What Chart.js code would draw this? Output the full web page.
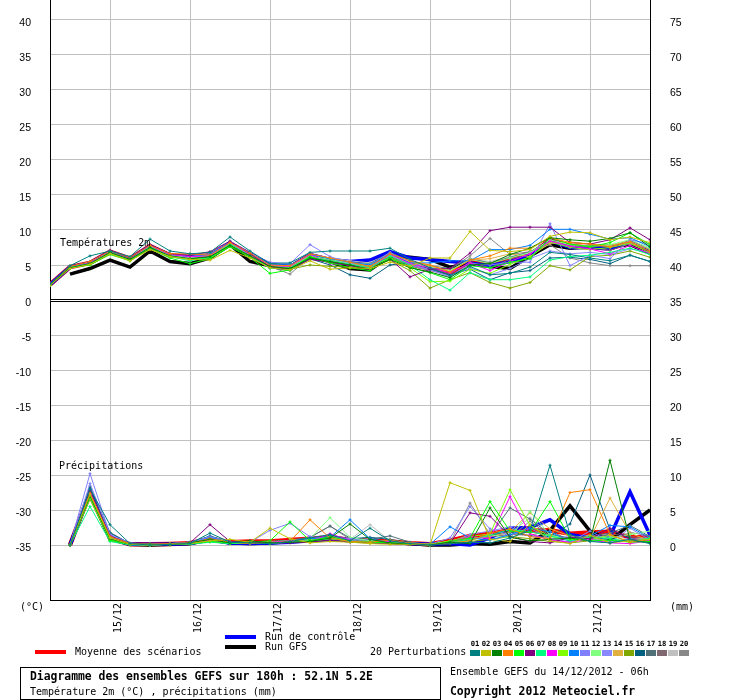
<!DOCTYPE html>
<html>
<head>
<meta charset="utf-8">
<script src="https://cdn.jsdelivr.net/npm/chart.js@4.4.0/dist/chart.umd.min.js"></script>
<style>
  body { margin: 0; background: #fff; }
  #wrap { position: relative; width: 740px; height: 700px; overflow: hidden; }
  #chart { position: absolute; left: 0; top: 0; }
  .t { position: absolute; font-family: "DejaVu Sans Mono", monospace; font-size: 10px; line-height: 12px; white-space: nowrap; color: #000; }
  .b { font-weight: bold; font-size: 11.4px; line-height: 13px; }
  .bar { position: absolute; height: 4px; width: 31px; }
  .sw { position: absolute; width: 10px; height: 6px; top: 650px; }
  .num { position: absolute; top: 639px; width: 11px; text-align: center; font-family: "DejaVu Sans Mono", monospace; font-size: 7.2px; font-weight: bold; line-height: 9px; }
  #box { position: absolute; left: 20px; top: 667px; width: 419px; height: 31px; border: 1px solid #000; }
</style>
</head>
<body>
<div id="wrap">
  <canvas id="chart" width="740" height="700"></canvas>
  <div class="t" style="left:60px; top:237px;">Températures 2m</div>
  <div class="t" style="left:59px; top:460px;">Précipitations</div>
  <div class="t" style="left:20px; top:601px;">(°C)</div>
  <div class="t" style="left:670px; top:601px;">(mm)</div>
  <div class="bar" style="left:35px; top:650px; background:#ff0000;"></div>
  <div class="t" style="left:75px; top:646px;">Moyenne des scénarios</div>
  <div class="bar" style="left:225px; top:635px; background:#0000ff;"></div>
  <div class="t" style="left:265px; top:631px;">Run de contrôle</div>
  <div class="bar" style="left:225px; top:645px; background:#000;"></div>
  <div class="t" style="left:265px; top:641px;">Run GFS</div>
  <div class="t" style="left:370px; top:646px;">20 Perturbations</div>
  <div id="swatches"></div>
  <div id="box"></div>
  <div class="t b" style="left:30px; top:670px;">Diagramme des ensembles GEFS sur 180h : 52.1N 5.2E</div>
  <div class="t" style="left:30px; top:686px;">Température 2m (°C) , précipitations (mm)</div>
  <div class="t" style="left:450px; top:666px;">Ensemble GEFS du 14/12/2012 - 06h</div>
  <div class="t b" style="left:450px; top:685px;">Copyright 2012 Meteociel.fr</div>
</div>
<script>
// échéances (heures depuis le 14/12 06h)
const hours = [0,6,12,18,24,30,36,42,48,54,60,66,72,78,84,90,96,102,108,114,120,126,132,138,144,150,156,162,168,174,180];
const dayTicks = [18,42,66,90,114,138,162];
const dayLabels = ['15/12','16/12','17/12','18/12','19/12','20/12','21/12'];
const tempTicks = [-35,-30,-25,-20,-15,-10,-5,0,5,10,15,20,25,30,35,40];
const precipTicks = [0,5,10,15,20,25,30,35,40,45,50,55,60,65,70,75];

const memberNames = ['01','02','03','04','05','06','07','08','09','10','11','12','13','14','15','16','17','18','19','20'];
const memberColors = ['#008080','#c0c000','#008000','#ff8000','#00ff00','#800080','#00ff80','#ff00ff','#80ff00','#0080ff',
                      '#8080ff','#80ff80','#8888ff','#e0b040','#80a800','#006080','#507078','#806870','#c0c0c0','#888888'];

// températures 2m (°C)
const tempMean = [2.2,4.7,5.3,6.9,5.9,7.7,6.4,6.1,6.4,8.1,6.5,4.9,4.7,6.4,5.7,5.2,4.9,6.4,5.1,4.5,3.8,5.5,5.0,5.7,6.4,8.6,7.7,7.5,7.4,8.2,6.9];
const tempControl = [2.2,4.7,5.3,6.9,5.9,7.7,6.4,6.1,6.4,8.1,6.6,5.0,4.8,6.5,5.8,5.5,5.7,6.9,6.0,5.8,5.5,5.3,4.9,5.5,6.4,8.5,7.5,7.5,7.3,8.3,7.0];
const tempGFS = [null,3.7,4.5,5.7,4.7,7.0,5.5,5.2,6.0,7.9,5.5,4.9,4.7,6.2,5.5,4.5,4.3,6.3,6.1,5.8,4.7,5.2,4.8,4.5,6.3,7.9,7.4,7.6,7.7,7.9,6.7];
const t01 = [2.3,4.9,6.3,7.0,6.2,8.7,7.0,6.6,6.8,9.0,7.0,5.2,5.3,6.8,7.0,7.0,7.0,7.4,5.8,4.6,3.5,4.8,3.6,3.8,4.7,6.8,6.5,6.0,5.6,6.4,5.5];
const t02 = [2.1,4.5,5.1,6.6,5.6,7.2,6.2,5.8,5.7,7.1,6.0,4.6,4.3,5.6,4.4,4.6,4.5,5.4,4.8,6.0,6.0,9.8,7.1,6.9,7.2,9.1,9.7,9.6,8.6,9.0,8.2];
const t03 = [2.2,4.6,5.2,6.8,5.8,7.5,6.3,5.9,6.2,7.8,6.3,4.8,4.5,6.0,5.5,5.0,4.4,5.8,4.6,4.0,3.2,5.0,5.2,6.5,7.4,8.9,8.6,8.4,8.8,9.6,7.6];
const t04 = [2.2,4.8,5.5,7.0,6.1,7.8,6.6,6.6,6.4,8.2,6.7,5.0,4.9,6.6,6.0,5.4,4.8,6.6,5.6,5.0,4.0,5.7,6.3,7.4,7.4,8.9,8.2,8.0,7.6,8.3,6.9];
const t05 = [2.1,4.6,5.0,6.5,5.6,7.3,6.0,5.2,5.9,7.6,6.1,3.8,4.3,6.2,5.3,4.6,4.2,6.0,4.7,3.9,2.9,4.9,4.6,5.4,5.9,8.9,8.0,7.6,8.2,9.6,7.9];
const t06 = [2.3,4.8,5.5,7.1,6.0,7.9,6.6,6.4,6.9,8.4,6.6,4.7,4.4,5.8,5.4,4.9,4.3,5.9,3.3,4.4,4.5,6.7,9.9,10.4,10.4,10.4,8.2,8.0,8.6,10.3,8.6];
const t07 = [2.2,4.7,5.2,6.8,5.8,7.6,6.2,5.6,6.1,8.0,6.3,4.5,4.6,6.1,5.6,5.1,4.6,6.3,5.0,2.9,1.4,3.9,2.9,2.9,3.3,5.7,6.2,6.4,6.8,7.4,6.5];
const t08 = [2.2,4.7,5.3,6.9,5.9,7.7,6.5,6.2,6.3,8.2,6.5,4.9,4.8,6.5,5.2,5.0,4.6,6.5,5.2,4.6,3.9,5.3,4.2,5.5,6.6,8.4,7.7,7.3,6.6,7.8,6.6];
const t09 = [2.1,4.6,5.2,6.7,5.7,7.5,6.2,5.8,6.0,7.7,6.4,4.7,4.6,6.2,5.4,5.0,4.8,6.0,4.6,2.6,2.7,4.4,3.8,5.1,6.2,8.3,7.5,7.2,7.5,8.1,6.7];
const t10 = [2.3,4.8,5.4,7.0,6.0,7.8,6.5,6.2,6.5,8.3,6.6,5.1,5.0,6.5,5.9,5.4,5.0,6.6,5.3,5.3,5.6,5.6,7.2,7.2,7.8,10.1,10.1,9.4,8.7,8.9,7.6];
const t11 = [2.2,4.6,5.3,6.9,6.0,7.8,6.5,6.2,6.6,8.4,6.7,5.4,5.2,7.9,6.2,5.3,5.0,6.8,5.2,4.3,3.4,5.2,5.0,5.4,5.4,10.9,4.9,6.4,5.9,8.6,8.0];
const t12 = [2.2,4.7,5.4,6.9,6.0,7.7,6.4,6.1,6.3,8.0,6.4,4.9,4.8,6.3,5.8,5.3,5.1,6.4,5.2,4.7,4.2,5.8,5.2,6.0,6.8,8.6,7.9,7.7,7.9,8.6,7.4];
const t13 = [2.3,4.8,5.3,6.8,5.9,7.6,6.4,6.0,6.4,8.0,6.5,5.0,4.8,6.6,5.9,5.1,4.8,6.4,5.0,4.3,3.3,4.6,3.6,4.5,5.9,7.0,6.6,6.8,6.5,7.3,6.8];
const t14 = [2.2,4.7,5.2,6.9,5.9,7.6,6.4,6.1,6.4,8.0,6.4,4.8,4.6,6.1,5.6,5.2,4.9,6.3,5.4,4.9,4.2,5.7,5.9,6.6,6.2,8.1,8.3,8.0,7.8,8.4,7.2];
const t15 = [2.2,4.6,5.1,6.8,5.8,7.5,6.3,5.9,6.2,7.8,6.3,4.6,4.4,5.0,4.8,4.7,4.6,5.7,4.2,1.7,2.9,3.9,2.5,1.7,2.5,4.9,4.3,6.2,6.4,7.0,6.1];
const t16 = [2.2,4.7,5.3,6.8,5.9,7.6,6.3,6.0,6.4,8.0,6.4,4.6,4.2,5.9,5.0,3.6,3.1,5.0,5.4,4.4,3.6,4.4,2.9,3.9,4.2,6.0,6.1,5.8,5.2,6.4,5.5];
const t17 = [2.2,4.6,5.2,6.8,5.8,7.6,6.4,6.1,6.3,8.0,6.5,4.9,4.6,6.5,5.8,5.4,5.2,6.8,5.6,4.9,4.5,5.9,5.3,6.1,6.9,8.5,7.7,7.7,7.6,8.4,7.2];
const t18 = [2.2,4.7,5.3,6.9,5.9,7.7,6.5,6.1,6.5,8.1,6.5,4.9,4.7,6.4,5.7,5.3,5.1,6.4,5.1,4.6,3.7,5.4,4.6,5.8,6.6,8.6,7.8,7.5,7.1,8.0,7.0];
const t19 = [2.2,4.7,5.3,6.9,5.9,7.7,6.4,6.1,6.4,8.1,6.6,5.0,4.9,6.5,6.0,5.6,5.3,6.6,5.4,4.7,4.1,5.8,5.5,6.2,6.7,8.3,7.7,7.6,7.8,8.1,7.3];
const t20 = [2.2,4.7,5.3,6.9,5.9,7.8,6.5,6.2,6.5,8.3,6.6,4.8,3.7,6.2,5.6,5.3,4.6,6.1,4.9,4.2,4.4,6.3,8.8,6.5,6.9,7.9,6.0,5.3,4.9,4.9,4.9];

// précipitations (mm / 6h)
const precipMean = [null,0,7.5,0.95,0.1,0.1,0.15,0.25,0.9,0.4,0.5,0.5,0.7,0.9,1.1,0.7,0.6,0.5,0.25,0.1,0.6,1.3,1.6,2.1,2.05,2.1,1.6,1.8,1.9,1.1,1.1];
const precipControl = [null,0,7.4,0.9,0.1,0.1,0.1,0.2,0.7,0.3,0.2,0.3,0.4,0.6,0.8,0.7,0.5,0.4,0.2,0.1,0.2,0,1.0,2.4,2.5,3.6,1.5,1.0,1.2,7.6,1.4];
const precipGFS = [null,0,7.5,0.9,0.1,0,0.1,0.2,0.8,0.3,0.2,0.3,0.5,0.6,0.9,0.6,0.5,0.4,0.2,0,0,0.2,0.1,0.5,0.3,2.1,5.6,2.0,0.7,2.9,5.0];
const p01 = [null,0,8.0,2.9,0.2,0,0.1,0.2,1.7,0.4,0.3,0.2,0.5,1.0,1.5,0.6,2.4,0.6,0.2,0,0.2,0.4,0.3,1.0,2.1,11.4,1.5,0.5,0.3,0.8,0.2];
const p02 = [null,0,7.2,1.0,0.1,0,0.1,0.2,0.6,0.8,0.4,2.4,0.9,0.3,0.5,0.4,0.2,0.1,0.1,0,8.9,7.8,0.8,0.5,2.9,0.6,0.2,1.4,0.3,0.6,0.8];
const p03 = [null,0,7.0,0.9,0.1,0.1,0,0.3,0.8,0.3,0.6,0.3,0.4,0.5,1.0,3.0,0.8,0.3,0.1,0,0.4,0.2,5.3,1.1,0.6,0.8,1.0,0.6,12.1,0.7,0.3];
const p04 = [null,0,7.4,1.2,0.2,0.1,0.2,0.3,0.9,0.4,0.2,0.3,0.5,3.6,1.0,0.5,0.4,0.7,0.3,0.1,0.3,0.6,1.7,2.3,1.2,0.9,7.5,7.9,1.5,0.4,0.8];
const p05 = [null,0,6.9,0.7,0.1,0,0.1,0.2,0.5,0.3,0.4,0.6,3.3,0.6,1.2,0.5,0.4,0.3,0.2,0,0.5,1.0,6.2,2.0,1.8,6.2,0.9,0.6,0.7,0.4,0.5];
const p06 = [null,0,7.8,1.3,0.2,0.1,0.2,0.3,2.9,0.5,0.4,0.3,0.3,0.4,0.7,0.4,0.3,0.2,0.1,0,0.2,4.6,4.1,1.2,0.5,0.3,1.1,0.9,2.4,0.8,0.5];
const p07 = [null,0,5.5,0.5,0,0,0.1,0.1,0.4,0.2,0.3,0.2,0.4,0.6,0.9,0.6,0.5,0.3,0.2,0.1,0.3,0.8,1.4,2.2,1.9,1.3,0.6,1.1,0.9,0.5,1.0];
const p08 = [null,0,7.6,0.9,0.1,0,0.1,0.2,0.7,0.3,0.5,0.4,0.6,0.5,1.6,0.7,0.4,0.5,0.2,0,0.4,1.2,0.9,6.9,1.6,0.7,0.4,0.8,0.3,0.2,0.6];
const p09 = [null,0,7.1,0.8,0.1,0.1,0.1,0.3,0.6,0.3,0.4,0.5,0.6,0.7,0.9,0.6,0.5,0.4,0.2,0.1,0.6,1.2,1.6,7.9,2.8,1.2,0.8,0.7,1.4,0.4,0.9];
const p10 = [null,0,7.9,1.1,0.2,0.1,0.2,0.3,1.0,0.5,0.4,0.5,0.6,0.9,1.1,3.6,0.9,0.4,0.3,0.1,2.6,1.0,0.7,1.5,2.4,1.9,0.5,1.3,2.8,2.6,1.0];
const p11 = [null,0,10.2,1.5,0.3,0.1,0.2,0.4,1.2,0.5,0.4,2.1,3.1,1.2,0.9,0.8,0.5,0.3,0.2,0.1,1.0,5.5,2.3,1.4,2.4,0.9,1.2,0.6,0.3,2.4,0.7];
const p12 = [null,0,6.8,0.7,0.1,0,0.1,0.2,0.5,0.3,0.4,0.3,0.5,0.9,3.9,1.1,0.6,0.4,0.2,0,0.3,0.6,1.5,1.0,4.8,1.4,0.8,1.2,1.0,1.5,2.0];
const p13 = [null,0,8.8,1.4,0.2,0.1,0.2,0.3,1.1,0.5,0.3,0.4,0.5,0.8,1.2,0.9,0.7,0.5,0.3,0.1,0.4,1.5,2.0,2.6,1.2,1.0,0.4,2.0,0.5,0.9,0.6];
const p14 = [null,0,7.3,1.0,0.1,0.1,0.2,0.3,0.8,0.4,0.3,0.4,0.6,0.8,1.0,0.8,0.6,0.5,0.2,0.1,0.5,0.9,1.2,1.9,4.6,2.3,1.3,0.9,6.7,1.7,0.6];
const p15 = [null,0,6.5,0.6,0.1,0,0.1,0.2,0.5,0.2,0.3,0.2,0.4,0.5,0.8,0.6,0.4,0.3,0.1,0,0.2,0.5,0.8,1.2,0.9,0.5,0.3,0.6,0.4,0.8,0.5];
const p16 = [null,0,8.1,1.7,0.2,0.1,0.1,0.3,1.3,0.4,0.3,0.3,0.6,0.7,1.4,0.9,1.1,0.8,0.3,0.1,0.3,0.7,1.4,1.9,1.3,1.2,3.0,10.0,2.2,1.0,0.4];
const p17 = [null,0,8.4,1.8,0.2,0.1,0.2,0.4,1.2,0.5,0.4,0.4,0.7,1.1,2.7,1.0,0.8,1.3,0.4,0.1,0.4,0.9,1.3,5.3,3.7,1.5,1.0,1.3,1.7,2.8,1.2];
const p18 = [null,0,7.7,1.2,0.2,0.1,0.1,0.3,0.9,0.4,0.3,0.3,0.6,0.8,1.0,0.7,0.5,0.4,0.2,0.1,0.3,0.8,1.2,1.5,1.4,2.0,0.7,0.9,1.6,1.2,0.9];
const p19 = [null,0,7.5,1.1,0.1,0.1,0.1,0.2,0.8,0.4,0.3,0.4,0.6,0.7,1.0,0.8,2.9,0.6,0.2,0.1,0.4,0.9,1.2,1.7,3.9,1.5,0.8,1.1,1.3,0.8,1.0];
const p20 = [null,0,7.6,1.3,0.2,0.1,0.2,0.3,1.0,0.5,0.4,0.5,0.6,1.1,2.7,0.8,0.5,0.4,0.2,0.1,0.3,6.0,1.5,1.1,3.4,1.3,0.6,1.0,0.6,1.8,1.3];

const tempMembers = [t01,t02,t03,t04,t05,t06,t07,t08,t09,t10,t11,t12,t13,t14,t15,t16,t17,t18,t19,t20];
const precipMembers = [p01,p02,p03,p04,p05,p06,p07,p08,p09,p10,p11,p12,p13,p14,p15,p16,p17,p18,p19,p20];

// légende des perturbations
const swatches = document.getElementById('swatches');
memberNames.forEach((name, i) => {
    const sw = document.createElement('div');
    sw.className = 'sw';
    sw.style.left = (470 + i * 11) + 'px';
    sw.style.background = memberColors[i];
    swatches.appendChild(sw);
    const num = document.createElement('div');
    num.className = 'num';
    num.style.left = (469.5 + i * 11) + 'px';
    num.textContent = name;
    swatches.appendChild(num);
});

function pts(values) {
    return values.map((v, i) => ({ x: hours[i], y: v }));
}

function line(values, color, width, axis, marker) {
    return {
        data: pts(values),
        yAxisID: axis,
        borderColor: color,
        backgroundColor: color,
        borderWidth: width,
        pointRadius: marker ? 1.5 : 0,
        pointStyle: 'cross',
        pointBorderWidth: 1,
        pointBorderColor: color,
        tension: 0,
        fill: false,
        spanGaps: false
    };
}

const datasets = [];
tempMembers.forEach((m, i) => datasets.push(line(m, memberColors[i], 1, 'y', true)));
precipMembers.forEach((m, i) => datasets.push(line(m, memberColors[i], 1, 'y2', true)));
datasets.push(line(tempControl, '#0000ff', 3.5, 'y', false));
datasets.push(line(precipControl, '#0000ff', 3.5, 'y2', false));
datasets.push(line(tempGFS, '#000000', 3.5, 'y', false));
datasets.push(line(precipGFS, '#000000', 3.5, 'y2', false));
datasets.push(line(tempMean, '#ff0000', 4.5, 'y', false));
datasets.push(line(precipMean, '#ff0000', 4.5, 'y2', false));

// double trait noir entre les deux panneaux
const separator = {
    id: 'separator',
    beforeDatasetsDraw(chart) {
        const c = chart.ctx;
        const a = chart.chartArea;
        const y0 = Math.round(chart.scales.y.getPixelForValue(0));
        c.save();
        c.fillStyle = '#000';
        c.fillRect(a.left, y0 - 1, a.right - a.left, 1);
        c.fillRect(a.left, y0 + 1, a.right - a.left, 1);
        c.restore();
    }
};

function noPad(scale) {
    scale.paddingTop = 0;
    scale.paddingBottom = 0;
    scale.paddingLeft = 0;
    scale.paddingRight = 0;
}

const tickFont = { family: 'Liberation Sans', size: 10.5 };

new Chart(document.getElementById('chart'), {
    type: 'line',
    data: { datasets: datasets },
    options: {
        responsive: false,
        animation: false,
        events: [],
        layout: { padding: 0, autoPadding: false },
        plugins: { legend: { display: false }, tooltip: { enabled: false } },
        scales: {
            x: {
                type: 'linear',
                min: 0,
                max: 180,
                afterBuildTicks(scale) { scale.ticks = dayTicks.map(v => ({ value: v })); },
                afterFit(scale) { scale.height = 100; noPad(scale); },
                grid: { color: '#c0c0c0', lineWidth: 1, drawTicks: false },
                border: { display: true, color: '#000', width: 1 },
                ticks: {
                    autoSkip: false,
                    minRotation: 90,
                    maxRotation: 90,
                    padding: 3,
                    labelOffset: 8,
                    color: '#000',
                    font: { family: 'DejaVu Sans Mono', size: 10 },
                    callback: v => dayLabels[dayTicks.indexOf(v)]
                }
            },
            y: {
                type: 'linear',
                position: 'left',
                min: -300 / 7,
                max: 300 / 7,
                afterBuildTicks(scale) { scale.ticks = tempTicks.map(v => ({ value: v })); },
                afterFit(scale) { scale.width = 50; noPad(scale); },
                grid: {
                    color: ctx => (ctx.tick && ctx.tick.value === 0) ? 'rgba(0,0,0,0)' : '#c0c0c0',
                    lineWidth: 1,
                    drawTicks: false
                },
                border: { display: true, color: '#000', width: 1 },
                ticks: { padding: 19, labelOffset: 3, color: '#000', font: tickFont }
            },
            y2: {
                type: 'linear',
                position: 'right',
                min: -300 / 7 + 35,
                max: 300 / 7 + 35,
                afterBuildTicks(scale) { scale.ticks = precipTicks.map(v => ({ value: v })); },
                afterFit(scale) { scale.width = 90; noPad(scale); },
                grid: { display: false, drawTicks: false },
                border: { display: true, color: '#000', width: 1 },
                ticks: { padding: 20, labelOffset: 3, color: '#000', font: tickFont }
            }
        }
    },
    plugins: [separator]
});
</script>
</body>
</html>
